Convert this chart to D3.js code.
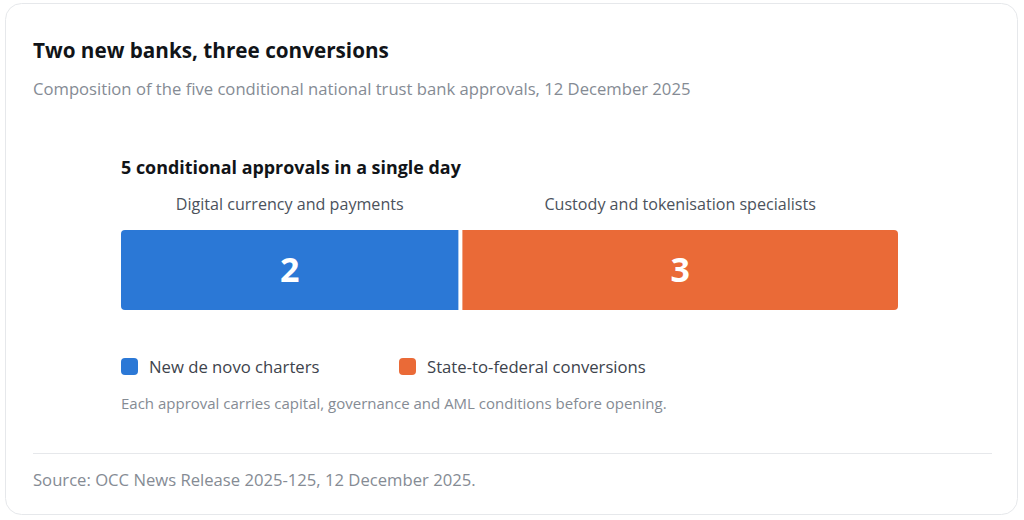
<!DOCTYPE html>
<html>
<head>
<meta charset="utf-8">
<script src="https://cdn.jsdelivr.net/npm/d3@7"></script>
<style>
  html, body { margin: 0; padding: 0; background: #ffffff; }
  svg { display: block; font-family: "Open Sans", "Noto Sans", sans-serif; }
</style>
</head>
<body>
<svg id="chart" width="1024" height="520"></svg>
<script>
// data
var title = "Two new banks, three conversions";
var subtitle = "Composition of the five conditional national trust bank approvals, 12 December 2025";
var heading = "5 conditional approvals in a single day";
var segments = ["Digital currency and payments", "Custody and tokenisation specialists"];
var counts = [2, 3];
var legendLabels = ["New de novo charters", "State-to-federal conversions"];
var note = "Each approval carries capital, governance and AML conditions before opening.";
var source = "Source: OCC News Release 2025-125, 12 December 2025.";

var palette = ["#2b78d6", "#ea6a37"];

// rect with only some corners rounded
function sideRounded(x, y, w, h, rl, rr) {
    return "M" + (x + rl) + "," + y +
        "H" + (x + w - rr) +
        (rr ? "A" + rr + "," + rr + " 0 0 1 " + (x + w) + "," + (y + rr) : "") +
        "V" + (y + h - rr) +
        (rr ? "A" + rr + "," + rr + " 0 0 1 " + (x + w - rr) + "," + (y + h) : "") +
        "H" + (x + rl) +
        (rl ? "A" + rl + "," + rl + " 0 0 1 " + x + "," + (y + h - rl) : "") +
        "V" + (y + rl) +
        (rl ? "A" + rl + "," + rl + " 0 0 1 " + (x + rl) + "," + y : "") +
        "Z";
}

function draw() {
    var svg = d3.select("#chart");
    var color = d3.scaleOrdinal().domain(segments).range(palette);

    // card
    svg.append("rect")
        .attr("x", 5.5).attr("y", 3.5)
        .attr("width", 1012).attr("height", 511)
        .attr("rx", 16)
        .attr("fill", "#fff")
        .attr("stroke", "#e6e8eb");

    svg.append("text")
        .attr("x", 33).attr("y", 58)
        .attr("font-size", 20.7).attr("font-weight", 700)
        .attr("fill", "#111418")
        .text(title);

    svg.append("text")
        .attr("x", 33).attr("y", 95)
        .attr("font-size", 16.65)
        .attr("fill", "#858b94")
        .text(subtitle);

    svg.append("text")
        .attr("x", 121).attr("y", 174)
        .attr("font-size", 17.9).attr("font-weight", 700)
        .attr("fill", "#111418")
        .text(heading);

    // bar: segments sized like flex boxes (label width + share of spare room)
    var barX = 121, barW = 777, barY = 230, barH = 80, gap = 4;

    var labels = svg.append("g").selectAll("text")
        .data(segments)
        .enter().append("text")
        .attr("y", 210)
        .attr("text-anchor", "middle")
        .attr("font-size", 16.1)
        .attr("fill", "#4b525c")
        .text(d => d);

    var labelW = labels.nodes().map(n => n.getComputedTextLength());
    var spare = barW - gap * (segments.length - 1) - d3.sum(labelW);
    var x = d3.scaleLinear().domain([0, d3.sum(counts)]).range([0, spare]);

    var segs = [];
    var cx = barX;
    segments.forEach(function(s, i) {
        var w = labelW[i] + x(counts[i]);
        segs.push({ name: s, value: counts[i], x0: cx, w: w, first: i == 0, last: i == segments.length - 1 });
        cx += w + gap;
    });

    labels.attr("x", (d, i) => segs[i].x0 + segs[i].w / 2);

    var g = svg.append("g");
    g.selectAll("path")
        .data(segs)
        .enter().append("path")
        .attr("d", d => sideRounded(d.x0, barY, d.w, barH, d.first ? 4 : 0, d.last ? 4 : 0))
        .attr("fill", d => color(d.name));

    g.selectAll("text")
        .data(segs)
        .enter().append("text")
        .attr("x", d => d.x0 + d.w / 2)
        .attr("y", barY + barH / 2 + 12)
        .attr("text-anchor", "middle")
        .attr("font-size", 34).attr("font-weight", 700)
        .attr("fill", "#fff")
        .text(d => d.value);

    // legend
    var legendX = [121, 399];
    var lg = svg.append("g").selectAll("g")
        .data(legendLabels)
        .enter().append("g")
        .attr("transform", (d, i) => `translate(${legendX[i]},358)`);

    lg.append("rect")
        .attr("width", 17).attr("height", 17).attr("rx", 4)
        .attr("fill", (d, i) => palette[i]);

    lg.append("text")
        .attr("x", 28).attr("y", 15)
        .attr("font-size", 16.7)
        .attr("fill", "#3d434c")
        .text(d => d);

    svg.append("text")
        .attr("x", 121).attr("y", 409)
        .attr("font-size", 15)
        .attr("fill", "#858b94")
        .text(note);

    svg.append("line")
        .attr("x1", 33).attr("x2", 992)
        .attr("y1", 453.5).attr("y2", 453.5)
        .attr("stroke", "#e6e8eb");

    svg.append("text")
        .attr("x", 33).attr("y", 486)
        .attr("font-size", 16.65)
        .attr("fill", "#858b94")
        .text(source);
}

draw();
</script>
</body>
</html>
